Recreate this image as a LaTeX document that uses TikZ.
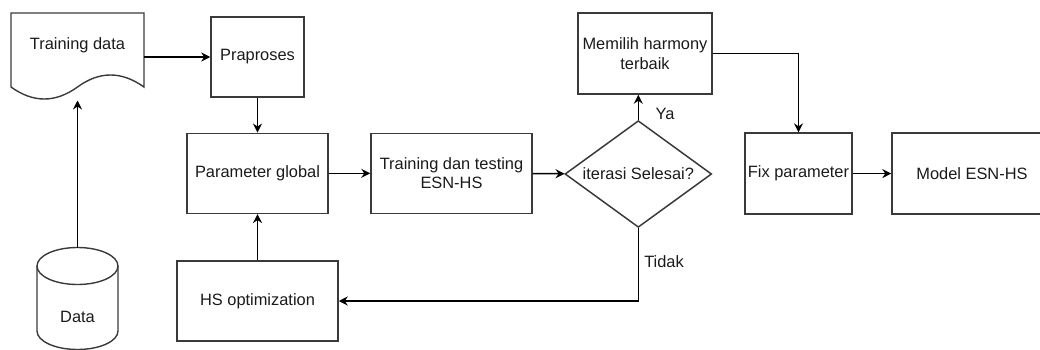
\documentclass[tikz,border=0pt]{standalone}
\usepackage{fontspec}
\setmainfont{Liberation Sans}
\usetikzlibrary{shapes.geometric,arrows.meta}
\definecolor{boxc}{HTML}{3A3A3A}
\definecolor{txt}{HTML}{1A1A1A}
\begin{document}
\begin{tikzpicture}[x=1pt,y=-1pt,
  fnt/.style={font=\fontsize{16.4}{19.5}\selectfont},
  box/.style={draw=boxc, line width=1.5pt, inner sep=0pt, align=center, text=txt, fnt},
  shp/.style={draw=boxc, line width=1.4pt},
  arr/.style={line width=1.4pt, draw=black, -{Stealth[length=9pt,width=9pt,inset=3pt]}},
  lbl/.style={text=txt, inner sep=0pt, fnt}]
\useasboundingbox (0,0) rectangle (1040,350);
\clip (0,0) rectangle (1040,350);

% Training data (document shape)
\draw[shp] (11,87) -- (11,13) -- (144,13) -- (144,87)
  .. controls (121.5,71) and (99.33,71) .. (77.5,87)
  .. controls (55.33,103) and (33.17,103) .. (11,87) -- cycle;
\node[lbl] (td) at (77.5,45) {Training data};
\coordinate (tdR) at (144,57);
\coordinate (tdB) at (77.5,100.5);

% Data (cylinder)
\draw[shp] (77.5,266) ellipse [x radius=40.5, y radius=18.5];
\draw[shp] (37,266) -- (37,331) arc[start angle=180, end angle=0, x radius=40.5, y radius=18.5] -- (118,266);
\node[lbl] (data) at (77.5,317) {Data};
\coordinate (dataT) at (77.5,247.5);

% Boxes
\node[box, minimum width=93, minimum height=80] (pra) at (257.5,57) {Praproses};
\node[box, minimum width=141, minimum height=80] (pg) at (257.5,173.3) {Parameter global};
\node[box, minimum width=161, minimum height=80] (hs) at (257.5,301) {HS optimization};
\node[box, minimum width=161, minimum height=80] (tt) at (451.5,173.3) {Training dan testing\\ESN-HS};
\node[box, shape=diamond, aspect=1.375, minimum width=146.7, minimum height=106.7] (it) at (638.3,174) {iterasi Selesai?};
\node[box, minimum width=134, minimum height=81] (mh) at (645,53.5) {Memilih harmony\\terbaik};
\node[box, minimum width=107, minimum height=81] (fp) at (798.5,173.6) {Fix parameter};
\node[box, minimum width=160, minimum height=81] (me) at (972,173.6) {Model ESN-HS};

% Labels
\node[lbl] (ya) at (665,114) {Ya};
\node[lbl] (tidak) at (664,262) {Tidak};

% Connectors
\draw[arr] (tdR) -- (pra.west);
\draw[arr] (dataT) -- (tdB);
\draw[arr] (pra) -- (pg);
\draw[arr] (hs) -- (pg);
\draw[arr] (pg) -- (tt);
\draw[arr] (tt) -- (it);
\draw[arr] (it.north) -- (it.north|-mh.south);
\draw[arr] (it.south) |- (hs.east);
\draw[arr] (mh.east) -| (fp.north);
\draw[arr] (fp) -- (me);
\end{tikzpicture}
\end{document}
